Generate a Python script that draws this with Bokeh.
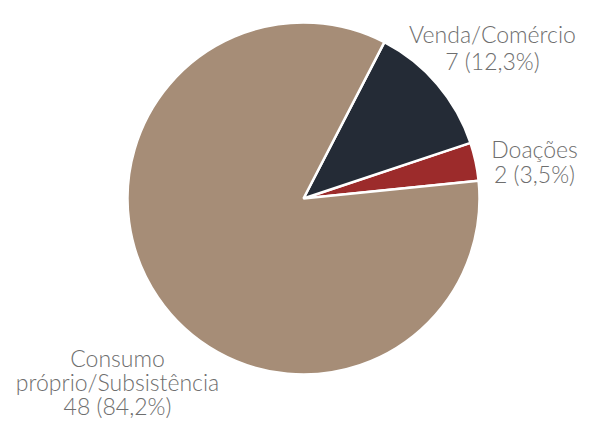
import math
from bokeh.plotting import figure
from bokeh.models import Range1d, ColumnDataSource
from bokeh.core.properties import value
from bokeh.embed import file_html
from bokeh.resources import INLINE

# ---- data ----
categories = ["Doações", "Venda/Comércio", "Consumo próprio/Subsistência"]
counts = [2, 7, 48]
colors = ["#9c2b2b", "#242b36", "#a68d77"]

# ---- layout ----
W, H = 582, 418
cx, cy, R = 303, -198, 176
start = math.radians(5.8)

p = figure(width=W, height=H, output_backend="svg", toolbar_location=None,
           x_range=Range1d(0, W), y_range=Range1d(-H, 0),
           min_border=0)
p.axis.visible = False
p.grid.visible = False
p.outline_line_color = None
p.background_fill_color = "white"

total = sum(counts)
starts, ends = [], []
a = start
for c in counts:
    starts.append(a)
    a += 2 * math.pi * c / total
    ends.append(a)

src = ColumnDataSource(dict(start=starts, end=ends, color=colors,
                            cat=categories, cnt=counts))
p.wedge(x=cx, y=cy, radius=R, start_angle="start", end_angle="end",
        fill_color="color", line_color="white", line_width=2.5, source=src)

def pct(c):
    return f"{c} ({100 * c / total:.1f}%)".replace(".", ",")

label_lines = [
    ["Doações", pct(counts[0])],
    ["Venda/Comércio", pct(counts[1])],
    ["Consumo", "próprio/Subsistência", pct(counts[2])],
]
label_x = [534, 492, 117]
label_y = [148, 33, 357]
line_gaps = [25, 27, 24]

xs, ys, ts = [], [], []
for lines, lx, ly, g in zip(label_lines, label_x, label_y, line_gaps):
    for i, t in enumerate(lines):
        xs.append(lx)
        ys.append(-(ly + i * g))
        ts.append(t)

p.text(x=xs, y=ys, text=ts, text_font=value("Lato Light"), text_font_size="23px",
       text_color="#6e6e6e", text_align="center", text_baseline="alphabetic")

open("out.html", "w").write(file_html(p, INLINE))
